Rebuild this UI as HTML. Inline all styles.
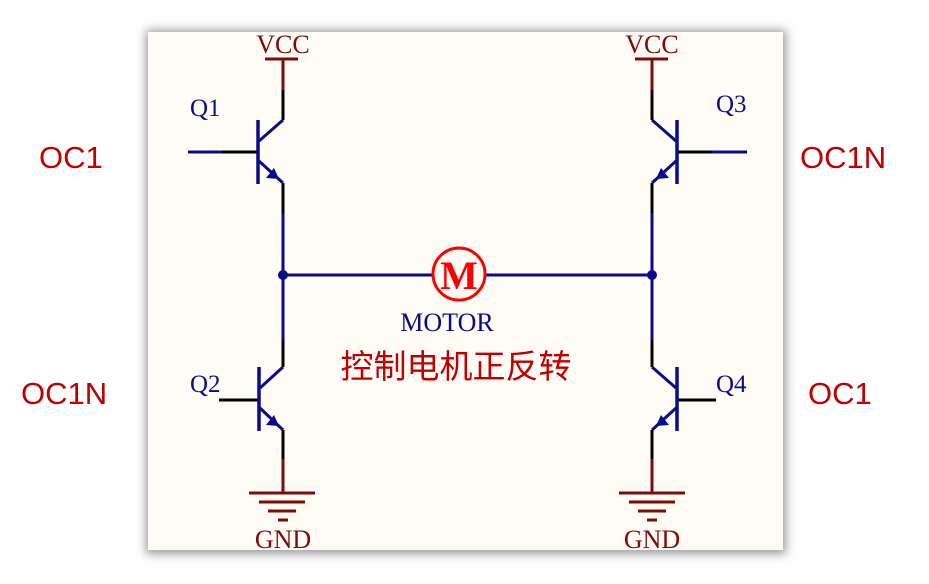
<!DOCTYPE html>
<html><head><meta charset="utf-8"><style>
html,body{margin:0;padding:0;background:#fff;}
svg{display:block}
</style></head><body>
<svg width="929" height="584" viewBox="0 0 929 584" xmlns="http://www.w3.org/2000/svg">
<defs><filter id="sh" x="-10%" y="-10%" width="120%" height="120%"><feGaussianBlur stdDeviation="5"/></filter></defs>
<rect x="146" y="30" width="640" height="524" fill="#999" filter="url(#sh)"/>
<rect x="148" y="32" width="635" height="518" fill="#fffcf6"/>
<g font-family="Liberation Serif, serif">
<text x="283" y="53" text-anchor="middle" font-size="26" fill="#7f0a0a">VCC</text>
<line x1="265" y1="59" x2="298" y2="59" stroke="#7f0a0a" stroke-width="3"/>
<line x1="283" y1="59" x2="283" y2="90" stroke="#7f0a0a" stroke-width="3"/>
<line x1="283" y1="90" x2="283" y2="120" stroke="#000" stroke-width="3"/>
<text x="190" y="116" font-size="25" fill="#0a0a8c">Q1</text>
<line x1="188" y1="152" x2="222" y2="152" stroke="#0a0a8c" stroke-width="3"/>
<line x1="222" y1="152" x2="258" y2="152" stroke="#000" stroke-width="3"/>
<line x1="258" y1="120" x2="258" y2="184" stroke="#0a0a8c" stroke-width="3.5"/>
<line x1="259" y1="141" x2="283" y2="120" stroke="#0a0a8c" stroke-width="3"/>
<line x1="259" y1="161" x2="283" y2="183" stroke="#0a0a8c" stroke-width="3"/>
<polygon points="279,179 266,178 274,168" fill="#0a0a8c"/>
<line x1="283" y1="183" x2="283" y2="213" stroke="#000" stroke-width="3"/>
<line x1="283" y1="213" x2="283" y2="340" stroke="#0a0a8c" stroke-width="3"/>
<text x="190" y="392" font-size="25" fill="#0a0a8c">Q2</text>
<line x1="219" y1="400" x2="259" y2="400" stroke="#000" stroke-width="3"/>
<line x1="259" y1="367" x2="259" y2="431" stroke="#0a0a8c" stroke-width="3.5"/>
<line x1="260" y1="388" x2="283" y2="367" stroke="#0a0a8c" stroke-width="3"/>
<line x1="260" y1="408" x2="283" y2="430" stroke="#0a0a8c" stroke-width="3"/>
<polygon points="279,426 266,425 274,415" fill="#0a0a8c"/>
<line x1="283" y1="340" x2="283" y2="367" stroke="#000" stroke-width="3"/>
<line x1="283" y1="430" x2="283" y2="459" stroke="#000" stroke-width="3"/>
<line x1="283" y1="459" x2="283" y2="493" stroke="#7f0a0a" stroke-width="3"/>
<g stroke="#7f0a0a" stroke-width="3">
<line x1="249" y1="493" x2="315" y2="493"/><line x1="259" y1="502" x2="305" y2="502"/>
<line x1="268" y1="511" x2="296" y2="511"/><line x1="278" y1="520" x2="288" y2="520"/></g>
<text x="283" y="548" text-anchor="middle" font-size="26" fill="#7f0a0a">GND</text>

<text x="652" y="53" text-anchor="middle" font-size="26" fill="#7f0a0a">VCC</text>
<line x1="635" y1="59" x2="668" y2="59" stroke="#7f0a0a" stroke-width="3"/>
<line x1="652" y1="59" x2="652" y2="90" stroke="#7f0a0a" stroke-width="3"/>
<line x1="652" y1="90" x2="652" y2="120" stroke="#000" stroke-width="3"/>
<text x="716" y="112" font-size="25" fill="#0a0a8c">Q3</text>
<line x1="677" y1="152" x2="712" y2="152" stroke="#000" stroke-width="3"/>
<line x1="712" y1="152" x2="747" y2="152" stroke="#0a0a8c" stroke-width="3"/>
<line x1="677" y1="120" x2="677" y2="184" stroke="#0a0a8c" stroke-width="3.5"/>
<line x1="676" y1="141" x2="652" y2="120" stroke="#0a0a8c" stroke-width="3"/>
<line x1="676" y1="161" x2="652" y2="183" stroke="#0a0a8c" stroke-width="3"/>
<polygon points="656,179 669,178 661,168" fill="#0a0a8c"/>
<line x1="652" y1="183" x2="652" y2="213" stroke="#000" stroke-width="3"/>
<line x1="652" y1="213" x2="652" y2="340" stroke="#0a0a8c" stroke-width="3"/>
<text x="716" y="392" font-size="25" fill="#0a0a8c">Q4</text>
<line x1="677" y1="400" x2="716" y2="400" stroke="#000" stroke-width="3"/>
<line x1="677" y1="367" x2="677" y2="431" stroke="#0a0a8c" stroke-width="3.5"/>
<line x1="676" y1="388" x2="652" y2="367" stroke="#0a0a8c" stroke-width="3"/>
<line x1="676" y1="408" x2="652" y2="430" stroke="#0a0a8c" stroke-width="3"/>
<polygon points="656,426 669,425 661,415" fill="#0a0a8c"/>
<line x1="652" y1="340" x2="652" y2="367" stroke="#000" stroke-width="3"/>
<line x1="652" y1="430" x2="652" y2="459" stroke="#000" stroke-width="3"/>
<line x1="652" y1="459" x2="652" y2="493" stroke="#7f0a0a" stroke-width="3"/>
<g stroke="#7f0a0a" stroke-width="3">
<line x1="619" y1="493" x2="685" y2="493"/><line x1="629" y1="502" x2="675" y2="502"/>
<line x1="638" y1="511" x2="666" y2="511"/><line x1="647" y1="520" x2="657" y2="520"/></g>
<text x="652" y="548" text-anchor="middle" font-size="26" fill="#7f0a0a">GND</text>

<line x1="283" y1="275" x2="433" y2="275" stroke="#0a0a8c" stroke-width="3"/>
<line x1="485" y1="275" x2="652" y2="275" stroke="#0a0a8c" stroke-width="3"/>
<circle cx="283" cy="275" r="5" fill="#0a0a8c"/>
<circle cx="652" cy="275" r="5" fill="#0a0a8c"/>
<circle cx="459" cy="274" r="26" fill="none" stroke="#f00" stroke-width="3"/>
<text x="459" y="289" text-anchor="middle" font-size="40" font-weight="bold" fill="#f00">M</text>
<text x="447" y="331" text-anchor="middle" font-size="26" fill="#0a0a8c">MOTOR</text>
</g>
<text x="456" y="378" text-anchor="middle" font-size="33" fill="#c00000" font-family="Liberation Sans, Noto Sans CJK SC, sans-serif">控制电机正反转</text>
<g font-family="Liberation Sans, sans-serif" font-size="31" fill="#c00000">
<text x="39" y="168">OC1</text>
<text x="21" y="404">OC1N</text>
<text x="800" y="168">OC1N</text>
<text x="808" y="404">OC1</text>
</g>
</svg>
</body></html>
